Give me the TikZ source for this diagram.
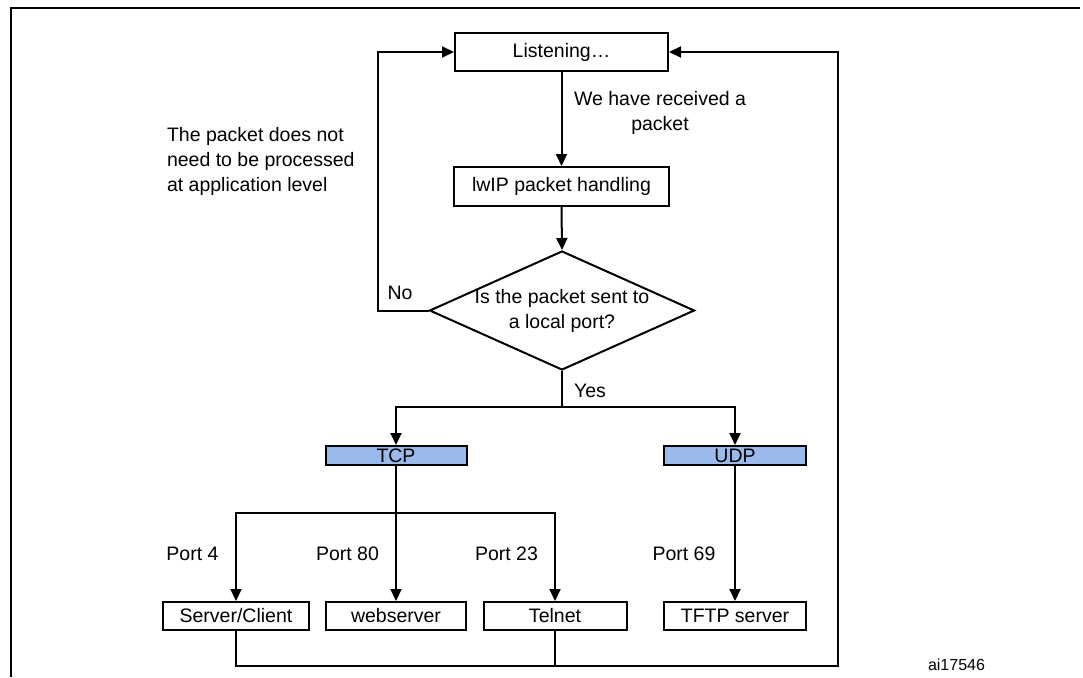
\documentclass[tikz,border=0pt]{standalone}
\usepackage{fontspec}
\setmainfont{Liberation Sans}
\usetikzlibrary{arrows.meta,shapes.geometric}
\definecolor{protoblue}{RGB}{153,186,234}
\begin{document}
\begin{tikzpicture}[x=1pt,y=-1pt,
  font=\fontsize{19.5}{25}\selectfont,
  line width=2pt,
  arr/.style={-{Triangle[length=12pt,width=11pt]}},
  procbox/.style={draw,line width=2pt,inner sep=0pt},
  decision/.style={diamond,draw,line width=2pt,inner sep=0pt,minimum width=265pt,minimum height=119pt},
  protobox/.style={draw,line width=2pt,fill=protoblue,inner sep=0pt,minimum height=19pt},
  portbox/.style={draw,line width=2pt,inner sep=0pt,minimum height=28pt},
  lbl/.style={inner sep=0pt}]
\useasboundingbox (0,0) rectangle (1083,677);
% outer frame (clipped)
\draw[line width=2.4pt] (11,677) -- (11,8) -- (1080,8);

\node[procbox,minimum width=213pt,minimum height=38pt] (listen) at (561.5,52) {Listening…};
\node[procbox,minimum width=215pt,minimum height=39pt] (lwip) at (561.5,186.5) {lwIP packet handling};
\node[decision] (dec) at (562,310.5) {};
\node[lbl,align=center] (dectxt) at (dec.center) {Is the packet sent to\\a local port?};

\node[protobox,minimum width=141pt] (tcp) at (396,455.5) {TCP};
\node[protobox,minimum width=142pt] (udp) at (735,455.5) {UDP};

\node[portbox,minimum width=146pt] (sc) at (236,616) {Server/Client};
\node[portbox,minimum width=140pt] (web) at (396,616) {webserver};
\node[portbox,minimum width=143pt] (tel) at (555,616) {Telnet};
\node[portbox,minimum width=142pt] (tftp) at (735,616) {TFTP server};

\coordinate (ysplit) at (562,407);
\coordinate (psplit) at (396,513);
\coordinate (ret) at (838,666);
\coordinate (nocorner) at (378,310.5);

\draw[arr] (listen.south) -- (lwip.north);
\draw[arr] (lwip.south) -- (dec.north);
\draw[arr] (dec.west) -- (nocorner) |- (listen.west);
\draw (dec.south) -- (ysplit);
\draw[arr] (ysplit) -| (tcp.north);
\draw[arr] (ysplit) -| (udp.north);
\draw[arr] (tcp.south) -- (web.north);
\draw[arr] (psplit) -| (sc.north);
\draw[arr] (psplit) -| (tel.north);
\draw[arr] (udp.south) -- (tftp.north);
\draw[arr] (sc.south) |- (ret) |- (listen.east);
\draw (tel.south) -- (tel.south |- ret);

\node[lbl,align=center] (recv) at (660,112.5) {We have received a\\packet};
\node[lbl,align=left,anchor=west] (nproc) at (166,161.5) {The packet does not\\need to be processed\\at application level};
\node[lbl] (no) at (400,293) {No};
\node[lbl] (yes) at (590,391) {Yes};
\node[lbl] (p4) at (192.5,554) {Port 4};
\node[lbl] (p80) at (347.5,554) {Port 80};
\node[lbl] (p23) at (506.5,554) {Port 23};
\node[lbl] (p69) at (684,554) {Port 69};
\node[lbl,font=\fontsize{16}{19}\selectfont] (ai) at (956.5,665) {ai17546};
\end{tikzpicture}
\end{document}
